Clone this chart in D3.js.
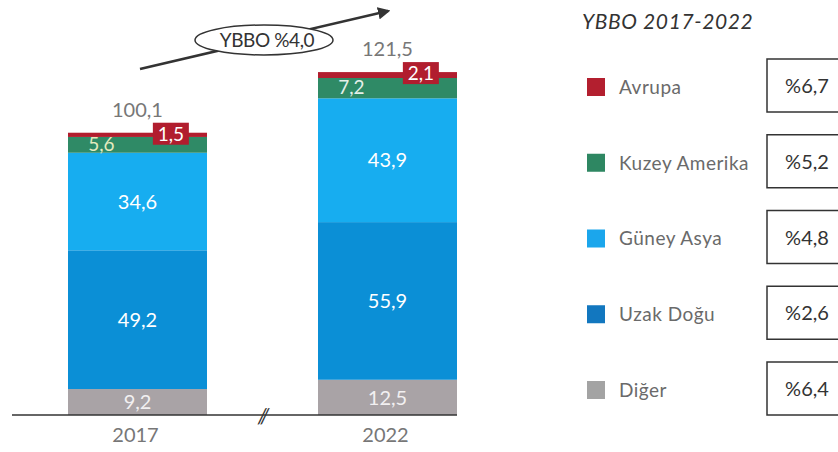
<!DOCTYPE html>
<html>
<head>
<meta charset="utf-8">
<script src="https://cdn.jsdelivr.net/npm/d3@7"></script>
<style>
  body { margin: 0; background: #fff; }
  svg { font-family: Lato, "Open Sans", sans-serif; }
</style>
</head>
<body>
<div id="chart"></div>
<script>
// values
const years = ['2017', '2022'];
const regions = ['Diğer', 'Uzak Doğu', 'Güney Asya', 'Kuzey Amerika', 'Avrupa']; // bottom to top
const diger = [9.2, 12.5];
const uzakDogu = [49.2, 55.9];
const guneyAsya = [34.6, 43.9];
const kuzeyAmerika = [5.6, 7.2];
const avrupa = [1.5, 2.1];
const totals = [100.1, 121.5];
const legendOrder = ['Avrupa', 'Kuzey Amerika', 'Güney Asya', 'Uzak Doğu', 'Diğer'];
const cagrLabels = ['%6,7', '%5,2', '%4,8', '%2,6', '%6,4'];
const cagrTotal = 'YBBO %4,0';
const legendTitle = 'YBBO 2017-2022';

const barColors = {
  'Diğer': '#a9a3a6',
  'Uzak Doğu': '#0b8fd6',
  'Güney Asya': '#17adf0',
  'Kuzey Amerika': '#2f8a66',
  'Avrupa': '#b11d2e',
};
const legendColors = {
  'Diğer': '#a3a3a3',
  'Uzak Doğu': '#1277bf',
  'Güney Asya': '#1ba6ec',
  'Kuzey Amerika': '#2e8762',
  'Avrupa': '#b31f2f',
};

const width = 838;
const height = 452;
const fmt = d3.formatLocale({ decimal: ',', thousands: '.', grouping: [3], currency: ['', ''] }).format('.1f');

const rows = years.map((year, i) => ({
  year,
  'Diğer': diger[i],
  'Uzak Doğu': uzakDogu[i],
  'Güney Asya': guneyAsya[i],
  'Kuzey Amerika': kuzeyAmerika[i],
  'Avrupa': avrupa[i],
  total: totals[i],
}));

const series = d3.stack().keys(regions)(rows);

const svg = d3.select('#chart')
  .append('svg')
  .attr('width', width)
  .attr('height', height)
  .attr('viewBox', [0, 0, width, height]);

const x = d3.scaleBand()
  .domain(years)
  .range([68, 457])
  .paddingInner(0.444)
  .paddingOuter(0);
const y = d3.scaleLinear().domain([0, 100]).range([415, 133]);

// stacked bars
svg.append('g')
  .selectAll('g')
  .data(series)
  .join('g')
  .attr('fill', (s) => barColors[s.key])
  .selectAll('rect')
  .data((s) => s)
  .join('rect')
  .attr('x', (d) => x(d.data.year))
  .attr('y', (d) => y(d[1]))
  .attr('width', x.bandwidth())
  .attr('height', (d) => y(d[0]) - y(d[1]));

// labels in the big segments
const inner = ['Diğer', 'Uzak Doğu', 'Güney Asya'];
svg.append('g')
  .attr('text-anchor', 'middle')
  .style('font-size', '20px')
  .selectAll('text')
  .data(series.filter((s) => inner.includes(s.key)).flatMap((s) => s.map((d) => ({ key: s.key, d }))))
  .join('text')
  .attr('x', (o) => x(o.d.data.year) + x.bandwidth() / 2)
  .attr('y', (o) => (y(o.d[0]) + y(o.d[1])) / 2)
  .attr('dy', '0.36em')
  .attr('fill', (o) => (o.key === 'Diğer' ? '#f2f0f1' : '#ffffff'))
  .text((o) => fmt(o.d.data[o.key]));

// Kuzey Amerika label, left side of the green band
const green = series.find((s) => s.key === 'Kuzey Amerika');
svg.append('g')
  .attr('text-anchor', 'middle')
  .style('font-size', '19px')
  .selectAll('text')
  .data(green)
  .join('text')
  .attr('x', (d) => x(d.data.year) + x.bandwidth() * 0.24)
  .attr('y', (d) => (y(d[0]) + y(d[1])) / 2 - 1)
  .attr('dy', '0.36em')
  .attr('fill', (d, i) => (i === 0 ? '#e4ebbf' : '#e6efe9'))
  .text((d) => fmt(d.data['Kuzey Amerika']));

// Avrupa label, red box on the top edge
const red = series.find((s) => s.key === 'Avrupa');
const redLab = svg.append('g')
  .selectAll('g')
  .data(red)
  .join('g')
  .attr('transform', (d) => `translate(${x(d.data.year) + x.bandwidth() * 0.74},${y(d[1])})`);
redLab.append('rect')
  .attr('x', -18)
  .attr('y', -10)
  .attr('width', 36)
  .attr('height', 22)
  .attr('fill', barColors['Avrupa']);
redLab.append('text')
  .attr('text-anchor', 'middle')
  .attr('y', 1)
  .attr('dy', '0.36em')
  .attr('fill', '#fff')
  .style('font-size', '19px')
  .text((d) => fmt(d.data['Avrupa']));

// totals
svg.append('g')
  .attr('text-anchor', 'middle')
  .attr('fill', '#777')
  .style('font-size', '20px')
  .selectAll('text')
  .data(rows)
  .join('text')
  .attr('x', (d) => x(d.year) + x.bandwidth() / 2)
  .attr('y', (d) => y(d.total) - 16)
  .text((d) => fmt(d.total));

// baseline with break mark
svg.append('line')
  .attr('x1', 12)
  .attr('x2', x.range()[1])
  .attr('y1', y(0))
  .attr('y2', y(0))
  .attr('stroke', '#333')
  .attr('stroke-width', 1.5);
const brk = (x(years[0]) + x.bandwidth() + x(years[1])) / 2;
svg.append('text')
  .attr('x', brk)
  .attr('y', y(0) + 8)
  .attr('text-anchor', 'middle')
  .attr('fill', '#333')
  .style('font-size', '21px')
  .style('font-style', 'italic')
  .style('letter-spacing', '-2px')
  .text('//');

// year labels
svg.append('g')
  .attr('text-anchor', 'middle')
  .attr('fill', '#777')
  .style('font-size', '20px')
  .selectAll('text')
  .data(years)
  .join('text')
  .attr('x', (d) => x(d) + x.bandwidth() / 2 - 2)
  .attr('y', 442)
  .text((d) => d);

// growth arrow with ellipse
svg.append('defs').append('marker')
  .attr('id', 'head')
  .attr('viewBox', '0 0 10 10')
  .attr('refX', 8)
  .attr('refY', 5)
  .attr('markerWidth', 5)
  .attr('markerHeight', 5)
  .attr('orient', 'auto')
  .append('path')
  .attr('d', 'M0,0L10,5L0,10Z')
  .attr('fill', '#333');
svg.append('line')
  .attr('x1', 140)
  .attr('y1', 69)
  .attr('x2', 388)
  .attr('y2', 11)
  .attr('stroke', '#333')
  .attr('stroke-width', 2.5)
  .attr('marker-end', 'url(#head)');
svg.append('ellipse')
  .attr('cx', 264)
  .attr('cy', 40)
  .attr('rx', 69)
  .attr('ry', 15)
  .attr('fill', '#fff')
  .attr('stroke', '#333')
  .attr('stroke-width', 1.5);
svg.append('text')
  .attr('x', 267)
  .attr('y', 40)
  .attr('dy', '0.36em')
  .attr('text-anchor', 'middle')
  .attr('fill', '#333')
  .style('font-size', '19px')
  .style('letter-spacing', '-0.4px')
  .text(cagrTotal);

// legend
svg.append('text')
  .attr('x', 582)
  .attr('y', 29)
  .attr('fill', '#333')
  .style('font-size', '21px')
  .style('font-style', 'italic')
  .style('letter-spacing', '0.6px')
  .text(legendTitle);

const ly = d3.scalePoint().domain(legendOrder).range([87, 390]);
const item = svg.append('g')
  .selectAll('g')
  .data(legendOrder)
  .join('g')
  .attr('transform', (d) => `translate(0,${ly(d)})`);
item.append('rect')
  .attr('x', 587)
  .attr('y', -9)
  .attr('width', 18)
  .attr('height', 18)
  .attr('fill', (d) => legendColors[d]);
item.append('text')
  .attr('x', 619)
  .attr('dy', '0.36em')
  .attr('fill', '#6a6a6a')
  .style('font-size', '19px')
  .style('letter-spacing', '0.5px')
  .text((d) => d);
item.append('rect')
  .attr('x', 767)
  .attr('y', -28)
  .attr('width', 80)
  .attr('height', 53)
  .attr('fill', '#fff')
  .attr('stroke', '#333')
  .attr('stroke-width', 1.5);
item.append('text')
  .attr('x', 807)
  .attr('y', -1)
  .attr('dy', '0.36em')
  .attr('text-anchor', 'middle')
  .attr('fill', '#333')
  .style('font-size', '20px')
  .text((d, i) => cagrLabels[i]);
</script>
</body>
</html>
